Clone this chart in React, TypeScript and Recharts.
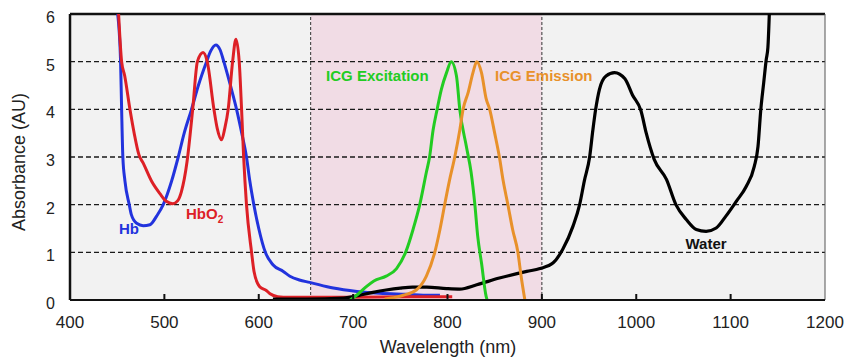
import React from "react";
import {
  LineChart,
  Line,
  XAxis,
  YAxis,
  CartesianGrid,
  ReferenceArea,
  ReferenceLine,
  ReferenceDot,
} from "recharts";

// wavelengths (nm) and absorbance (AU)
const hbWl = [450.5, 453.6, 454.7, 456, 458.2, 462.8, 465, 470.6, 477.6, 484.7, 491.8, 498.8, 507.6, 514.7, 521, 528.8, 536, 544.7, 549, 554.6, 559, 563, 570, 576.5, 582, 587, 590.5, 594.8, 600, 607, 615, 626, 633, 643, 654, 679, 704, 728, 756, 781, 792];
const hbAbs = [6, 5, 4, 3, 2.5, 2, 1.79, 1.61, 1.56, 1.58, 1.76, 2, 2.49, 3, 3.5, 4, 4.5, 5, 5.22, 5.35, 5.25, 5, 4.5, 4, 3.5, 3, 2.5, 2, 1.5, 1, 0.74, 0.6, 0.5, 0.42, 0.37, 0.25, 0.18, 0.14, 0.12, 0.1, 0.1];

const hbo2Wl = [451.5, 454.7, 458, 463.5, 468, 473, 477.6, 486.5, 495.3, 502, 509, 514, 518, 524, 530, 535, 541, 545.4, 552.5, 556, 560.6, 564, 567.6, 572.3, 575.8, 579.3, 581.8, 584, 587, 592.4, 595, 601, 608, 612, 620, 626, 700, 760, 805];
const hbo2Abs = [6, 5, 4.7, 4, 3.5, 3.05, 2.87, 2.49, 2.23, 2.07, 2.02, 2.08, 2.27, 2.9, 4, 5, 5.19, 5, 4, 3.6, 3.36, 3.6, 4, 5, 5.47, 5, 4, 3, 2, 1, 0.6, 0.28, 0.2, 0.13, 0.07, 0.06, 0.06, 0.07, 0.07];

const waterWl = [615, 650, 690, 700, 707, 721, 735, 750, 763, 778, 799, 813, 831, 855, 884, 898, 912, 922, 933, 940, 945, 950.6, 954, 957, 961, 968, 977, 988, 996, 1005, 1010.6, 1019, 1032, 1042, 1053, 1063.6, 1074, 1084.7, 1095, 1106, 1116.5, 1125, 1129, 1132, 1135, 1137.7, 1139.5, 1141];
const waterAbs = [0.02, 0.02, 0.04, 0.07, 0.1, 0.16, 0.21, 0.25, 0.27, 0.27, 0.24, 0.23, 0.32, 0.46, 0.6, 0.66, 0.78, 1.06, 1.55, 2, 2.5, 3, 3.56, 4, 4.42, 4.7, 4.77, 4.64, 4.3, 3.97, 3.5, 2.95, 2.53, 2, 1.69, 1.48, 1.44, 1.51, 1.76, 2.07, 2.38, 2.8, 3.22, 4, 4.55, 5.04, 5.3, 6];

const excWl = [697, 705, 714, 722, 735, 746, 756, 763.5, 770.6, 777.6, 781, 784.7, 789, 793.5, 799, 804, 809.5, 813, 820, 825, 829, 832, 836, 841, 842];
const excAbs = [0, 0.12, 0.28, 0.4, 0.5, 0.66, 1.02, 1.48, 2, 2.68, 3, 3.56, 4, 4.42, 4.77, 5, 4.7, 4, 3.22, 2.68, 2, 1.34, 0.78, 0.07, 0];

const emWl = [733.5, 745, 753, 767, 777.6, 786.5, 792, 797, 802, 807.7, 813, 816.5, 822, 827, 831, 836, 841, 844.7, 850, 855, 859, 864, 869, 874.6, 878, 882];
const emAbs = [0.02, 0.06, 0.1, 0.21, 0.5, 1, 1.48, 2, 2.5, 3, 3.56, 4, 4.36, 4.77, 5, 4.77, 4.22, 4, 3.5, 3, 2.5, 2, 1.48, 1, 0.5, 0];

const xTicks = [400, 500, 600, 700, 800, 900, 1000, 1100, 1200];
const yTicks = [0, 1, 2, 3, 4, 5, 6];
const gridLines = [1, 2, 3, 4, 5];

const pts = (wl: number[], ab: number[]) => wl.map((w, i) => ({ wl: w, ab: ab[i] }));

const FONT = "'Liberation Sans', Arial, Helvetica, sans-serif";

function XTick(props: any) {
  const { x, y, payload } = props;
  const v = payload.value;
  return (
    <g>
      {v > 400 && v < 1200 && (
        <line x1={x} x2={x} y1={y} y2={y - 6} stroke="#111" strokeWidth={2} />
      )}
      <text x={x} y={y + 28} textAnchor="middle" fontSize={17} fill="#222" fontFamily={FONT}>
        {v}
      </text>
    </g>
  );
}

function YTick(props: any) {
  const { x, y, payload } = props;
  return (
    <text x={x - 15} y={y + 9} textAnchor="end" fontSize={16} fill="#222" fontFamily={FONT}>
      {payload.value}
    </text>
  );
}

const tag = (text: string, color: string, sub?: string, anchor = "middle") => (p: any) => {
  const vb = p.viewBox || {};
  const cx = vb.x + (vb.width || 0) / 2;
  const cy = vb.y + (vb.height || 0) / 2;
  return (
    <text x={cx} y={cy + 5} textAnchor={anchor} fontSize={15} fontWeight="bold" fill={color} fontFamily={FONT}>
      {text}
      {sub && (
        <tspan fontSize={10} dy={4}>
          {sub}
        </tspan>
      )}
    </text>
  );
};

export default function App() {
  return (
    <div style={{ position: "absolute", left: 0, top: 0, width: 846, height: 359, background: "#fff" }}>
      <LineChart width={846} height={359} margin={{ top: 14, right: 21, bottom: 0, left: 0 }}>
        <CartesianGrid horizontal={false} vertical={false} fill="#f2f2f2" />
        <ReferenceArea x1={655} x2={900} y1={0} y2={6} fill="#f1dce5" fillOpacity={1} stroke="none" />
        {gridLines.map((g) => (
          <ReferenceLine key={g} y={g} stroke="#1a1a1a" strokeWidth={1.3} strokeDasharray="5 3" />
        ))}
        <ReferenceLine x={655} stroke="#333" strokeWidth={1} strokeDasharray="3 2" />
        <ReferenceLine x={900} stroke="#333" strokeWidth={1} strokeDasharray="3 2" />
        <ReferenceLine y={6} stroke="#111" strokeWidth={2.5} />
        <ReferenceLine x={1200} stroke="#555" strokeWidth={1} />
        <XAxis
          type="number"
          dataKey="wl"
          domain={[400, 1200]}
          ticks={xTicks}
          interval={0}
          allowDataOverflow
          height={59}
          tickSize={0}
          tickMargin={0}
          tickLine={false}
          axisLine={{ stroke: "#111", strokeWidth: 2 }}
          tick={<XTick />}
        />
        <YAxis
          type="number"
          dataKey="ab"
          domain={[0, 6]}
          ticks={yTicks}
          interval={0}
          allowDataOverflow
          width={70}
          tickSize={0}
          tickMargin={0}
          tickLine={false}
          axisLine={{ stroke: "#111", strokeWidth: 2.5 }}
          tick={<YTick />}
        />
        <Line data={pts(hbWl, hbAbs)} dataKey="ab" type="monotone" stroke="#2233dd" strokeWidth={3} dot={false} isAnimationActive={false} />
        <Line data={pts(hbo2Wl, hbo2Abs)} dataKey="ab" type="monotone" stroke="#dd2026" strokeWidth={3} dot={false} isAnimationActive={false} />
        <Line data={pts(waterWl, waterAbs)} dataKey="ab" type="monotone" stroke="#000" strokeWidth={3.2} dot={false} isAnimationActive={false} />
        <Line data={pts(excWl, excAbs)} dataKey="ab" type="monotone" stroke="#22cc22" strokeWidth={3} dot={false} isAnimationActive={false} />
        <Line data={pts(emWl, emAbs)} dataKey="ab" type="monotone" stroke="#e8912a" strokeWidth={3} dot={false} isAnimationActive={false} />
        <ReferenceDot x={462.5} y={1.49} r={0} fill="none" stroke="none" label={tag("Hb", "#2233dd")} />
        <ReferenceDot x={522.9} y={1.8} r={0} fill="none" stroke="none" label={tag("HbO", "#dd2026", "2", "start")} />
        <ReferenceDot x={725.7} y={4.7} r={0} fill="none" stroke="none" label={tag("ICG Excitation", "#22cc22")} />
        <ReferenceDot x={902} y={4.7} r={0} fill="none" stroke="none" label={tag("ICG Emission", "#e8912a")} />
        <ReferenceDot x={1074} y={1.17} r={0} fill="none" stroke="none" label={tag("Water", "#111")} />
      </LineChart>
      <svg width={846} height={359} style={{ position: "absolute", left: 0, top: 0, pointerEvents: "none" }}>
        <text x={448} y={353} textAnchor="middle" fontSize={18} fill="#222" fontFamily={FONT}>
          Wavelength (nm)
        </text>
        <text transform="translate(25,162) rotate(-90)" textAnchor="middle" fontSize={18} fill="#222" fontFamily={FONT}>
          Absorbance (AU)
        </text>
      </svg>
    </div>
  );
}
